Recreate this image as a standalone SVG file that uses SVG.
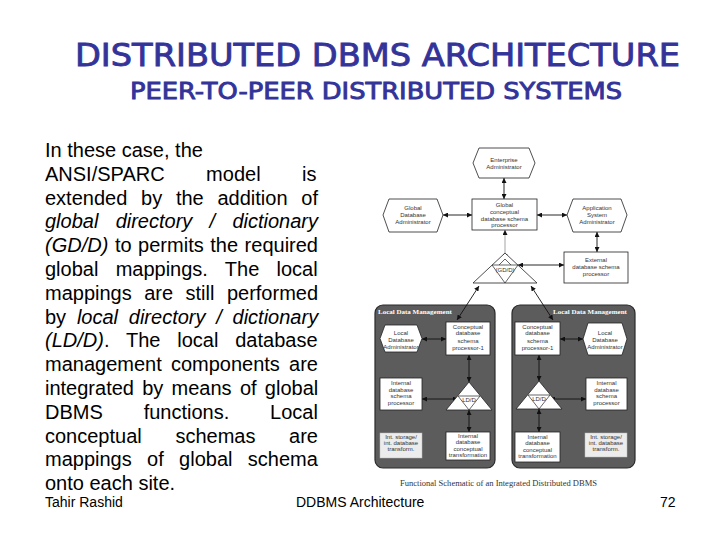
<svg xmlns="http://www.w3.org/2000/svg" width="720" height="540" viewBox="0 0 720 540">
<style>
.title{font-family:"DejaVu Sans",sans-serif;fill:#333399;stroke:#333399;stroke-width:0.9;}
.body{font-family:"Liberation Sans",Arial,sans-serif;font-size:20px;fill:#000;}
.foot{font-family:"Liberation Sans",Arial,sans-serif;font-size:14px;fill:#000;}
.it{font-style:italic;}
.box{fill:#fff;stroke:#222;stroke-width:0.8;}
.lt{fill:#ececec;stroke:#bbb;stroke-width:0.5;}
.panel{fill:#5c5c5c;stroke:#2a2a2a;stroke-width:1.2;}
.lbl{font-family:"Liberation Sans",Arial,sans-serif;font-size:6px;fill:#333;text-anchor:middle;}
.plbl{font-family:"Liberation Serif","Times New Roman",serif;font-size:7px;font-weight:bold;fill:#fff;}
.cap{font-family:"Liberation Serif","Times New Roman",serif;font-size:7.5px;fill:#333;}
.tri{fill:#fff;stroke:#222;stroke-width:0.8;}
.inner{fill:none;stroke:#222;stroke-width:0.7;}
.conn{stroke:#111;stroke-width:0.9;fill:none;marker-start:url(#ah);marker-end:url(#ah);}
.connl{stroke:#999;stroke-width:0.9;fill:none;marker-start:url(#ah);marker-end:url(#ah);}
</style>
<defs>
<marker id="ah" viewBox="0 0 10 10" refX="10" refY="5" markerWidth="5" markerHeight="5" markerUnits="userSpaceOnUse" orient="auto-start-reverse">
<path d="M0,0 L10,5 L0,10 z" fill="#111"/>
</marker>
</defs>
<rect width="720" height="540" fill="#fff"/>

<g id="title">
<text class="title" x="75" y="66" font-size="32" textLength="605" lengthAdjust="spacingAndGlyphs">DISTRIBUTED DBMS ARCHITECTURE</text>
<text class="title" x="130" y="99" font-size="23" stroke-width="0.6" textLength="492" lengthAdjust="spacingAndGlyphs">PEER-TO-PEER DISTRIBUTED SYSTEMS</text>
</g>

<g id="bodytext" class="body">
<text x="45" y="157">In these case, the</text>
<text x="45" y="180.8" word-spacing="35.9">ANSI/SPARC model is</text>
<text x="45" y="204.6" word-spacing="8.2">extended by the addition of</text>
<text x="45" y="228.4" word-spacing="11.7" class="it">global directory / dictionary</text>
<text x="45" y="252.2" word-spacing="1.0"><tspan class="it">(GD/D)</tspan> to permits the required</text>
<text x="45" y="276" word-spacing="11.7">global mappings. The local</text>
<text x="45" y="299.8" word-spacing="6.9">mappings are still performed</text>
<text x="45" y="323.6" word-spacing="5.2">by <tspan class="it">local directory / dictionary</tspan></text>
<text x="45" y="347.4" word-spacing="11.3"><tspan class="it">(LD/D)</tspan>. The local database</text>
<text x="45" y="371.2" word-spacing="3.6">management components are</text>
<text x="45" y="395" word-spacing="2.7">integrated by means of global</text>
<text x="45" y="418.8" word-spacing="35.3">DBMS functions. Local</text>
<text x="45" y="442.6" word-spacing="28.1">conceptual schemas are</text>
<text x="45" y="466.4" word-spacing="9.8">mappings of global schema</text>
<text x="45" y="490.2">onto each site.</text>
</g>

<g id="footer" class="foot">
<text x="45" y="507">Tahir Rashid</text>
<text x="296" y="507">DDBMS Architecture</text>
<text x="660" y="507">72</text>
</g>

<g id="panels">
<rect id="ldm-left" class="panel" x="375" y="305" width="120" height="163" rx="8"/>
<rect id="ldm-right" class="panel" x="512" y="305" width="123" height="163" rx="8"/>
<text class="plbl" x="378" y="314">Local Data Management</text>
<text class="plbl" x="553" y="314">Local Data Management</text>
</g>

<g id="connectors">
<line class="conn" x1="504" y1="178" x2="504" y2="199"/>
<line class="conn" x1="443" y1="215" x2="472" y2="215"/>
<line class="conn" x1="537" y1="215" x2="567" y2="215"/>
<line class="conn" x1="597" y1="232" x2="597" y2="252"/>
<line class="connl" x1="505" y1="230" x2="505" y2="259"/>
<line class="conn" x1="518" y1="265" x2="564" y2="265"/>
<line class="conn" x1="479" y1="286" x2="457" y2="320"/>
<line class="conn" x1="531" y1="286" x2="553" y2="320"/>
<line class="conn" x1="422" y1="339" x2="446" y2="339"/>
<line class="conn" x1="469" y1="355" x2="469" y2="382"/>
<line class="conn" x1="422" y1="399" x2="458" y2="399"/>
<line class="conn" x1="469" y1="410" x2="469" y2="432"/>
<line class="conn" x1="560" y1="339" x2="583" y2="339"/>
<line class="conn" x1="539" y1="355" x2="539" y2="381"/>
<line class="conn" x1="550" y1="399" x2="586" y2="399"/>
<line class="conn" x1="539" y1="409" x2="539" y2="432"/>
</g>

<g id="enterprise-admin">
<polygon class="box" points="473,163 479,148 529,148 535,163 529,178 479,178"/>
<text class="lbl" x="504" y="162">Enterprise</text>
<text class="lbl" x="504" y="169">Administrator</text>
</g>

<g id="global-dba">
<polygon class="box" points="383,215 389,199 437,199 443,215 437,232 389,232"/>
<text class="lbl" x="413" y="210">Global</text>
<text class="lbl" x="413" y="217">Database</text>
<text class="lbl" x="413" y="224">Administrator</text>
</g>

<g id="global-processor">
<rect class="box" x="472" y="199" width="65" height="31"/>
<text class="lbl" x="504.5" y="207">Global</text>
<text class="lbl" x="504.5" y="213.5">conceptual</text>
<text class="lbl" x="504.5" y="220.5">database schema</text>
<text class="lbl" x="504.5" y="227">processor</text>
</g>

<g id="app-admin">
<polygon class="box" points="567,215 573,199 621,199 627,215 621,232 573,232"/>
<text class="lbl" x="597" y="210">Application</text>
<text class="lbl" x="597" y="217">System</text>
<text class="lbl" x="597" y="224">Administrator</text>
</g>

<g id="external-processor">
<rect class="box" x="564" y="252" width="64" height="31"/>
<text class="lbl" x="596" y="262">External</text>
<text class="lbl" x="596" y="269">database schema</text>
<text class="lbl" x="596" y="275.5">processor</text>
</g>

<g id="gdd">
<polygon class="tri" points="505,253 473,283 537,283"/>
<polyline class="inner" points="492,265 518,265 505,283 492,265"/>
<polyline class="inner" points="499,265 505,259 511,265"/>
<text class="lbl" x="505" y="272">(GD/D)</text>
</g>

<g id="left-lda">
<polygon class="box" points="380,338.5 385,325 417,325 422,338.5 417,352 385,352"/>
<text class="lbl" x="401" y="335">Local</text>
<text class="lbl" x="401" y="341.5">Database</text>
<text class="lbl" x="401" y="348.5">Administrator</text>
</g>

<g id="left-conceptual">
<rect class="box" x="446" y="322" width="44" height="33"/>
<text class="lbl" x="468" y="328.5">Conceptual</text>
<text class="lbl" x="468" y="335">database</text>
<text class="lbl" x="468" y="342.5">schema</text>
<text class="lbl" x="468" y="350">processor-1</text>
</g>

<g id="left-internal-proc">
<rect class="box" x="380" y="378" width="42" height="32"/>
<text class="lbl" x="401" y="385">Internal</text>
<text class="lbl" x="401" y="391.5">database</text>
<text class="lbl" x="401" y="398">schema</text>
<text class="lbl" x="401" y="405">processor</text>
</g>

<g id="left-ldd">
<polygon class="tri" points="469,382 446,410 492,410"/>
<polyline class="inner" points="458,396 480,396 469,410 458,396"/>
<text class="lbl" x="469" y="401.5">LD/D</text>
</g>

<g id="left-idct">
<rect class="box" x="446" y="432" width="44" height="28"/>
<text class="lbl" x="468" y="438">Internal</text>
<text class="lbl" x="468" y="444">database</text>
<text class="lbl" x="468" y="450.5">conceptual</text>
<text class="lbl" x="468" y="457">transformation</text>
</g>

<g id="left-storage">
<rect class="lt" x="380" y="433" width="42" height="25"/>
<text class="lbl" x="401" y="439">Int. storage/</text>
<text class="lbl" x="401" y="445">int. database</text>
<text class="lbl" x="401" y="451">transform.</text>
</g>

<g id="right-conceptual">
<rect class="box" x="515" y="322" width="45" height="33"/>
<text class="lbl" x="537.5" y="328.5">Conceptual</text>
<text class="lbl" x="537.5" y="335">database</text>
<text class="lbl" x="537.5" y="342.5">schema</text>
<text class="lbl" x="537.5" y="350">processor-1</text>
</g>

<g id="right-lda">
<polygon class="box" points="583,339 588,323 622,323 627,339 622,355 588,355"/>
<text class="lbl" x="605" y="335">Local</text>
<text class="lbl" x="605" y="341.5">Database</text>
<text class="lbl" x="605" y="348.5">Administrator</text>
</g>

<g id="right-ldd">
<polygon class="tri" points="539,381 516,409 562,409"/>
<polyline class="inner" points="528,395 550,395 539,409 528,395"/>
<text class="lbl" x="539" y="400.5">LD/D</text>
</g>

<g id="right-internal-proc">
<rect class="box" x="586" y="378" width="41" height="32"/>
<text class="lbl" x="606.5" y="385">Internal</text>
<text class="lbl" x="606.5" y="391.5">database</text>
<text class="lbl" x="606.5" y="398">schema</text>
<text class="lbl" x="606.5" y="405">processor</text>
</g>

<g id="right-idct">
<rect class="box" x="515" y="432" width="45" height="30"/>
<text class="lbl" x="537.5" y="439">Internal</text>
<text class="lbl" x="537.5" y="445">database</text>
<text class="lbl" x="537.5" y="451.5">conceptual</text>
<text class="lbl" x="537.5" y="458">transformation</text>
</g>

<g id="right-storage">
<rect class="lt" x="585" y="433" width="42" height="24"/>
<text class="lbl" x="606" y="439">Int. storage/</text>
<text class="lbl" x="606" y="445">int. database</text>
<text class="lbl" x="606" y="451">transform.</text>
</g>

<g id="caption">
<text class="cap" x="400" y="486" textLength="197" lengthAdjust="spacingAndGlyphs">Functional Schematic of an Integrated Distributed DBMS</text>
</g>
</svg>
